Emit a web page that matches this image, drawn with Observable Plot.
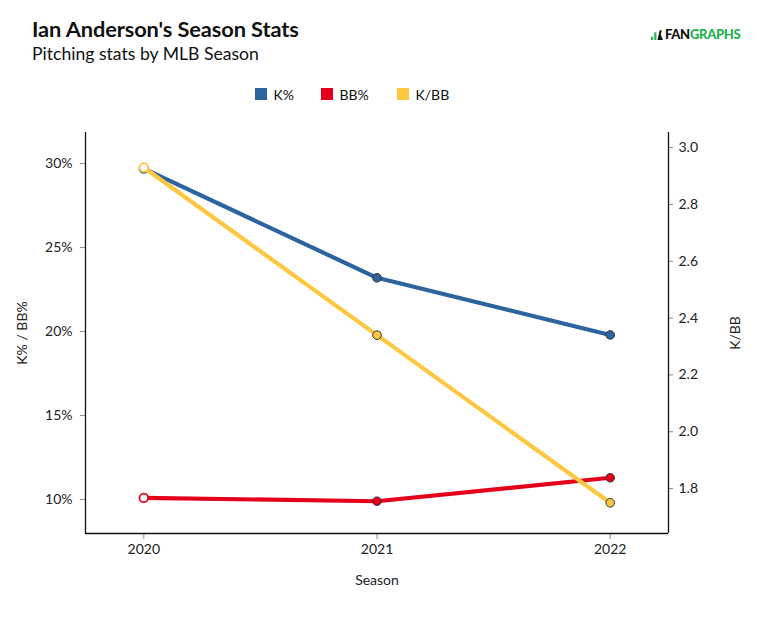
<!DOCTYPE html>
<html>
<head>
<meta charset="utf-8">
<script src="https://cdn.jsdelivr.net/npm/d3@7"></script>
<script src="https://cdn.jsdelivr.net/npm/@observablehq/plot@0.6"></script>
<style>
  html, body { margin: 0; padding: 0; background: #fff; }
  body { width: 762px; height: 618px; position: relative; overflow: hidden; font-family: Lato, "Open Sans", sans-serif; color: #111; }
  #title { position: absolute; left: 32px; top: 15px; font-size: 21.8px; font-weight: 700; letter-spacing: -0.1px; }
  #subtitle { position: absolute; left: 32px; top: 43px; font-size: 17.6px; font-weight: 400; }
  #logo { position: absolute; left: 651px; top: 26px; font-size: 13px; font-weight: 900; letter-spacing: -0.3px; font-family: Lato, sans-serif; }
  #logo .fan { color: #111; }
  #logo .gr { color: #20b24f; }
  #logo .ic { display: inline-block; width: 13px; height: 12px; position: relative; top: 1px; margin-right: 1px; }
  #legend { position: absolute; top: 85px; left: 0; width: 762px; font-size: 14px; }
  .li { position: absolute; display: flex; align-items: center; height: 18px; }
  .sw { width: 11.5px; height: 11.5px; margin-right: 7px; }
  #chart { position: absolute; left: 0; top: 115px; }
</style>
</head>
<body>
<div id="title">Ian Anderson's Season Stats</div>
<div id="subtitle">Pitching stats by MLB Season</div>
<div id="logo"><svg class="ic" viewBox="0 0 12 11"><rect x="0" y="8" width="2" height="3" fill="#20b24f"/><rect x="3" y="4" width="2" height="7" fill="#20b24f"/><path d="M6 11 L8 2 L10 2 L9 6 L11 11 Z" fill="#111"/></svg><span class="fan">FAN</span><span class="gr">GRAPHS</span></div>
<div id="legend"></div>
<div id="chart"></div>
<script>
// ---- data ----
const seasons = [2020, 2021, 2022];
const kPct = [29.7, 23.2, 19.8];
const bbPct = [10.1, 9.9, 11.3];
const kbb = [2.93, 2.34, 1.75];
const leftTicks = [10, 15, 20, 25, 30];
const rightTicks = [1.8, 2.0, 2.2, 2.4, 2.6, 2.8, 3.0];
const seriesNames = ["K%", "BB%", "K/BB"];
const seriesColors = ["#2c64a0", "#e4001b", "#fdc840"];

// ---- scales / mapping ----
const leftDomain = [7.98, 31.85];
const rightDomain = [1.642, 3.053];
const toLeft = v => leftDomain[0] + (v - rightDomain[0]) * (leftDomain[1] - leftDomain[0]) / (rightDomain[1] - rightDomain[0]);
const fromLeft = v => rightDomain[0] + (v - leftDomain[0]) * (rightDomain[1] - rightDomain[0]) / (leftDomain[1] - leftDomain[0]);
const xDomain = [2019.75, 2022.25];

const rows = [];
seasons.forEach((s, i) => {
  rows.push({season: s, series: "K%", y: kPct[i], i});
  rows.push({season: s, series: "BB%", y: bbPct[i], i});
  rows.push({season: s, series: "K/BB", y: toLeft(kbb[i]), i});
});
const colorOf = Object.fromEntries(seriesNames.map((n, i) => [n, seriesColors[i]]));

// legend
const legend = document.getElementById("legend");
const legendX = [255, 321, 397];
seriesNames.forEach((n, i) => {
  const d = document.createElement("div");
  d.className = "li";
  d.style.left = legendX[i] + "px";
  d.innerHTML = `<div class="sw" style="background:${seriesColors[i]}"></div><span>${n}</span>`;
  legend.appendChild(d);
});

const marks = [];
for (const name of seriesNames) {
  const data = rows.filter(r => r.series === name);
  marks.push(Plot.line(data, {x: "season", y: "y", stroke: colorOf[name], strokeWidth: 4.2}));
  marks.push(Plot.dot(data, {
    x: "season", y: "y", r: 4.3,
    fill: d => d.i === 0 ? "#fff" : colorOf[name],
    stroke: d => d.i === 0 ? colorOf[name] : "#333",
    strokeWidth: d => d.i === 0 ? 1.8 : 1
  }));
}

const chart = Plot.plot({
  width: 762,
  height: 503,
  marginTop: 17,
  marginBottom: 85,
  marginLeft: 85,
  marginRight: 94,
  style: {fontFamily: "Lato, sans-serif", fontSize: "14px", color: "#222", background: "transparent"},
  x: {domain: xDomain, axis: null},
  y: {domain: leftDomain, axis: null},
  marks: [
    Plot.axisX(seasons, {anchor: "bottom", tickSize: 6, tickPadding: 5, stroke: "#888", fill: "#222", tickFormat: d => String(d), label: null, fontSize: 14}),
    Plot.axisY(leftTicks, {anchor: "left", tickSize: 5, tickPadding: 8, stroke: "#888", fill: "#222", tickFormat: d => d + "%", label: null, fontSize: 14}),
    Plot.axisY(rightTicks.map(toLeft), {anchor: "right", tickSize: 4, tickPadding: 6, stroke: "#888", fill: "#222", tickFormat: d => fromLeft(d).toFixed(1), label: null, fontSize: 14}),
    Plot.ruleX([xDomain[0], xDomain[1]], {stroke: "#111", strokeWidth: 1.3}),
    Plot.ruleY([leftDomain[0]], {stroke: "#111", strokeWidth: 1.3}),
    Plot.text(["K% / BB%"], {frameAnchor: "left", dx: -63, rotate: -90, textAnchor: "middle", text: d => d, fontSize: 14, fill: "#222"}),
    Plot.text(["K/BB"], {frameAnchor: "right", dx: 67, rotate: -90, textAnchor: "middle", text: d => d, fontSize: 14, fill: "#222"}),
    Plot.text(["Season"], {frameAnchor: "bottom", dy: 51, text: d => d, fontSize: 14, fill: "#222"}),
    ...marks
  ]
});
document.getElementById("chart").appendChild(chart);
</script>
</body>
</html>
